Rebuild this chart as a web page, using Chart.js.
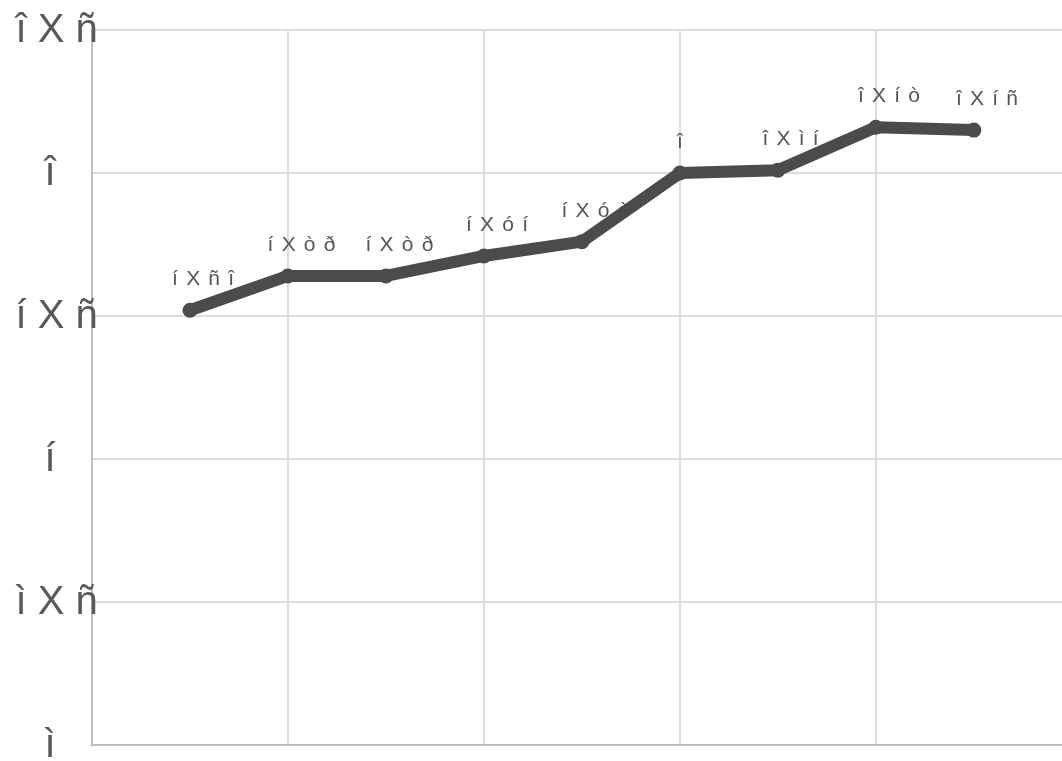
<!DOCTYPE html>
<html>
<head>
<meta charset="utf-8">
<script src="https://cdn.jsdelivr.net/npm/chart.js@4"></script>
<style>
  html, body { margin: 0; padding: 0; background: #fff; }
  #chart { display: block; }
</style>
</head>
<body>
<canvas id="chart" width="1062" height="761"></canvas>
<script>
// Chart data
const xValues = [1, 2, 3, 4, 5, 6, 7, 8, 9];
const yValues = [1.52, 1.64, 1.64, 1.71, 1.76, 2.00, 2.01, 2.16, 2.15];
const pointLabels = ['í X ñ î', 'í X ò ð', 'í X ò ð', 'í X ó í', 'í X ó ò', 'î', 'î X ì í', 'î X í ò', 'î X í ñ'];
const yTickValues = [0, 0.5, 1, 1.5, 2, 2.5];
const yTickLabels = ['ì', 'ì X ñ', 'í', 'í X ñ', 'î', 'î X ñ'];

const fontFamily = '"Liberation Sans", Arial, sans-serif';

// Value labels drawn before the line so the line sits on top of them
const valueLabelPlugin = {
    id: 'valueLabels',
    beforeDatasetsDraw(chart) {
        const ctx = chart.ctx;
        const meta = chart.getDatasetMeta(0);
        ctx.save();
        ctx.font = '21px ' + fontFamily;
        ctx.letterSpacing = '1.2px';
        ctx.fillStyle = '#555555';
        ctx.textAlign = 'left';
        ctx.textBaseline = 'alphabetic';
        meta.data.forEach((pt, i) => {
            const text = pointLabels[i];
            const half = ctx.measureText(text.replace(/ /g, '')).width / 2;
            ctx.fillText(text, pt.x - half * 0.85, pt.y - 25);
        });
        ctx.restore();
    }
};

// Y axis labels, placed from the y scale
const yLabelPlugin = {
    id: 'yLabels',
    afterDraw(chart) {
        const ctx = chart.ctx;
        const yScale = chart.scales.y;
        ctx.save();
        ctx.font = '40px ' + fontFamily;
        ctx.fillStyle = '#595959';
        ctx.textAlign = 'left';
        ctx.textBaseline = 'middle';
        yTickValues.forEach((v, i) => {
            const text = yTickLabels[i];
            const n = text.replace(/ /g, '').length;
            ctx.fillText(text, 59 - n * 14.5, yScale.getPixelForValue(v) + 1);
        });
        ctx.restore();
    }
};

new Chart(document.getElementById('chart'), {
    type: 'scatter',
    data: {
        datasets: [{
            data: xValues.map((x, i) => ({ x: x, y: yValues[i] })),
            showLine: true,
            borderColor: '#4b4b4b',
            backgroundColor: '#4b4b4b',
            borderWidth: 12,
            pointRadius: 7.5,
            pointHoverRadius: 7.5,
            pointBorderWidth: 0,
            borderJoinStyle: 'round'
        }]
    },
    options: {
        responsive: false,
        animation: false,
        layout: {
            autoPadding: false,
            padding: { top: 30, bottom: 16, left: 0, right: 0 }
        },
        plugins: {
            legend: { display: false },
            tooltip: { enabled: false }
        },
        scales: {
            x: {
                type: 'linear',
                min: 0,
                max: 9.9,
                afterBuildTicks(scale) {
                    scale.ticks = scale.ticks.filter(t => t.value % 2 === 0);
                },
                ticks: {
                    display: false,
                    stepSize: 2
                },
                grid: {
                    color: '#dcdcdc',
                    lineWidth: 2,
                    drawTicks: false
                },
                border: {
                    color: '#bdbdbd',
                    width: 2
                }
            },
            y: {
                min: 0,
                max: 2.5,
                afterFit(scale) {
                    scale.width = 92;
                },
                ticks: {
                    display: false,
                    stepSize: 0.5
                },
                grid: {
                    color: '#dcdcdc',
                    lineWidth: 2,
                    drawTicks: false
                },
                border: {
                    color: '#bdbdbd',
                    width: 2
                }
            }
        }
    },
    plugins: [valueLabelPlugin, yLabelPlugin]
});
</script>
</body>
</html>
